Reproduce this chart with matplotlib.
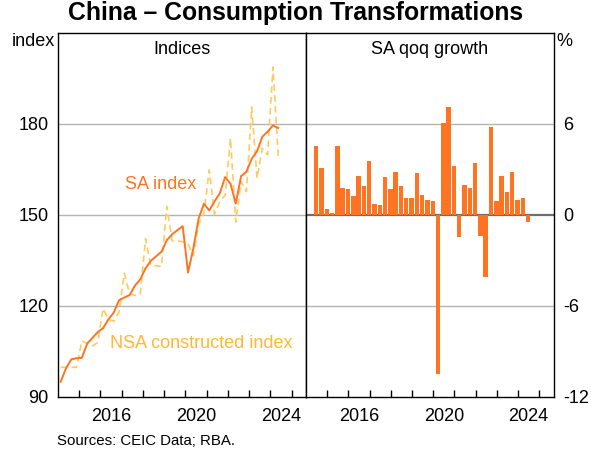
import matplotlib
matplotlib.use('Agg')
import matplotlib.pyplot as plt
import pandas as pd

plt.rcParams['font.family'] = ['Liberation Sans', 'DejaVu Sans']

# quarterly data, Q1 2014 to Q2 2024
quarters = pd.period_range('2014Q1', '2024Q2', freq='Q')

sa_index = [95.0, 99.4, 102.4, 102.8, 102.9, 107.6, 109.5, 111.4, 112.7, 115.6,
            117.8, 121.9, 122.8, 123.6, 126.7, 128.8, 132.4, 134.9, 136.4, 137.9,
            141.7, 143.6, 145.0, 146.3, 131.0, 139.0, 148.9, 153.7, 151.5, 154.5,
            157.2, 162.5, 160.3, 153.8, 162.8, 164.3, 168.5, 171.0, 175.8, 177.5,
            179.5, 178.7]

nsa_index = [99.8, 99.8, 99.8, 99.8, 108.5, 107.7, 106.8, 108.0, 119.2, 115.5,
             115.0, 118.0, 130.8, 124.0, 123.5, 124.0, 142.2, 133.3, 133.3, 133.0,
             152.8, 141.5, 141.5, 141.2, 140.5, 136.5, 147.0, 150.5, 164.8, 150.3,
             154.4, 156.6, 175.3, 147.7, 161.0, 157.7, 185.6, 162.1, 172.0, 169.8,
             198.8, 169.2]

# SA qoq growth, Q2 2014 to Q2 2024
sa_growth = [4.58, 3.08, 0.39, 0.13, 4.52, 1.77, 1.70, 1.24, 2.55, 1.90,
             3.53, 0.72, 0.65, 2.49, 1.70, 2.81, 1.90, 1.11, 1.11, 2.75,
             1.31, 0.98, 0.92, -10.46, 6.09, 7.13, 3.21, -1.45, 1.96, 1.77,
             3.40, -1.36, -4.07, 5.83, 0.92, 2.55, 1.51, 2.81, 0.98, 1.11,
             -0.44]

year_ticks = list(range(2015, 2026))
year_labels = [2016, 2020, 2024]
left_yticks = [90, 120, 150, 180, 210]
right_yticks = [-12, -6, 0, 6, 12]

orange = '#FF7420'
gold = '#FFCB60'
gold_text = '#FFB833'

# mid-quarter positions in decimal years
xq = [q.year + (q.quarter - 0.5) / 4 for q in quarters]

fig = plt.figure(figsize=(5.91, 4.59), dpi=100)
ax1 = fig.add_axes([0.0981, 0.1351, 0.4196, 0.7930])
ax2 = fig.add_axes([0.5178, 0.1351, 0.4188, 0.7930])

for ax in (ax1, ax2):
    ax.set_xlim(2014, 2025.68)
    ax.set_xticks(year_ticks)
    ax.set_xticklabels([])
    ax.set_xticks([y + 0.5 for y in year_labels], minor=True)
    ax.set_xticklabels([str(y) for y in year_labels], minor=True)
    ax.tick_params(axis='x', which='major', direction='in', length=5,
                   width=1, color='black')
    ax.tick_params(axis='x', which='minor', length=0, pad=8, labelsize=13)
    ax.tick_params(axis='y', length=0, labelsize=13)
    for s in ax.spines.values():
        s.set_linewidth(1)
        s.set_color('black')

# left panel: indices
ax1.set_ylim(90, 210)
ax1.set_yticks(left_yticks)
ax1.set_yticklabels([str(v) for v in left_yticks[:-1]] + [''])
ax1.tick_params(axis='y', pad=7)
for v in left_yticks[1:-1]:
    ax1.axhline(v, color='#B4B4B4', lw=1, zorder=1)
ax1.plot(xq, nsa_index, color=gold, lw=1.2, ls=(0, (4, 2.5)), zorder=2)
ax1.plot(xq, sa_index, color=orange, lw=1.4, zorder=3)
ax1.text(2018.83, 160.0, 'SA index', color=orange, fontsize=13,
         ha='center', va='center')
ax1.text(2020.75, 107.7, 'NSA constructed index', color=gold_text, fontsize=13,
         ha='center', va='center')
ax1.text(0.5, 0.955, 'Indices', transform=ax1.transAxes, fontsize=13,
         ha='center', va='center')
ax1.text(-0.012, 1.0, 'index', transform=ax1.transAxes, fontsize=13,
         ha='right', va='top')

# right panel: growth
ax2.set_ylim(-12, 12)
ax2.set_yticks(right_yticks)
ax2.yaxis.tick_right()
ax2.set_yticklabels([str(v) for v in right_yticks[:-1]] + [''])
ax2.tick_params(axis='y', pad=7)
for v in (-6, 6):
    ax2.axhline(v, color='#B4B4B4', lw=1, zorder=1)
ax2.axhline(0, color='#6E6E6E', lw=1.6, zorder=1)
ax2.bar(xq[1:], sa_growth, width=0.21, align='edge', color=orange, zorder=2)
ax2.text(0.5, 0.955, 'SA qoq growth', transform=ax2.transAxes, fontsize=13,
         ha='center', va='center')
ax2.text(1.012, 1.0, '%', transform=ax2.transAxes, fontsize=13,
         ha='left', va='top')

fig.text(0.5, 0.998, 'China \u2013 Consumption Transformations', fontsize=17.8,
         fontweight='bold', ha='center', va='top')
fig.text(0.096, 0.04, 'Sources: CEIC Data; RBA.', fontsize=10.8,
         ha='left', va='center')

fig.savefig('out.png', dpi=100)
